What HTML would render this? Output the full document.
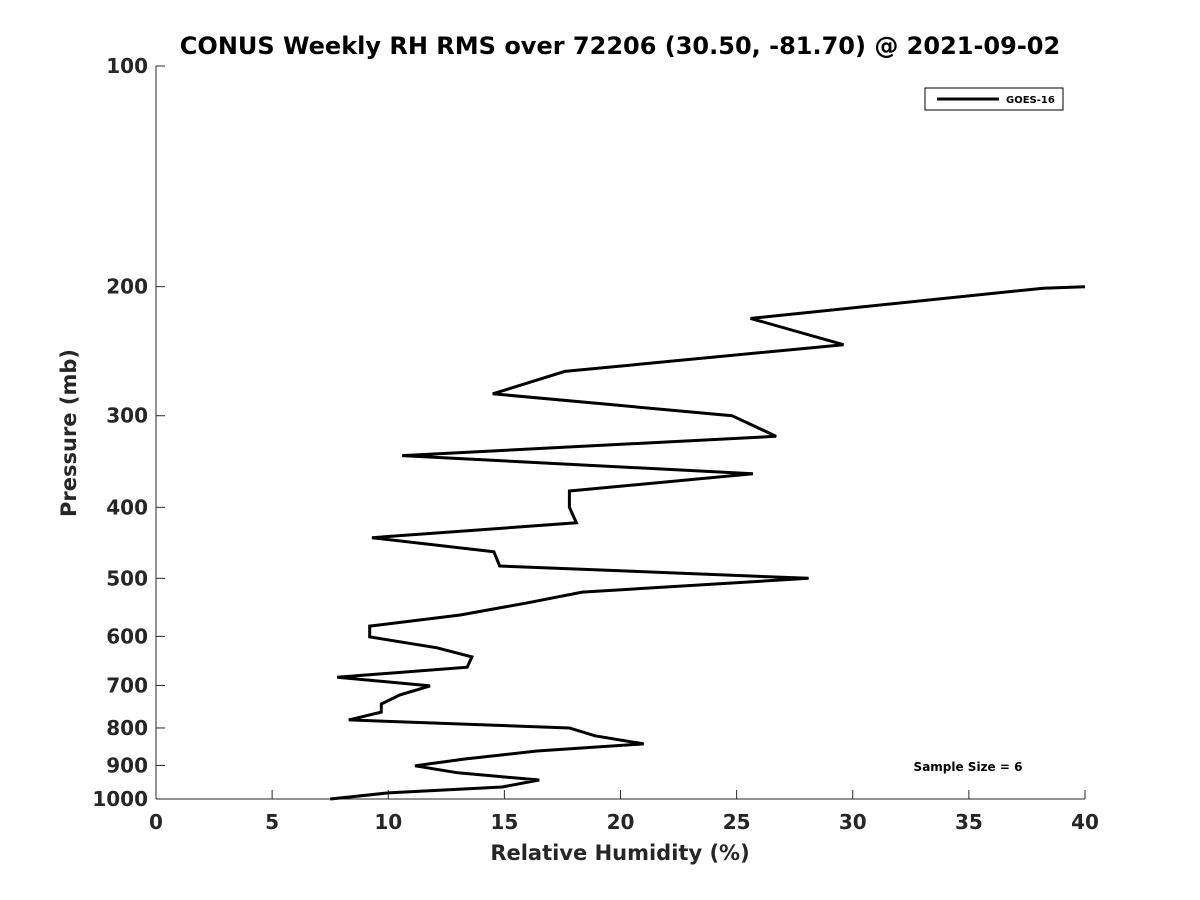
<!DOCTYPE html>
<html><head><meta charset="utf-8"><style>
body{margin:0;background:#fff;}
svg{display:block;font-family:"DejaVu Sans","Liberation Sans",sans-serif;}
</style></head><body>
<svg id="chart" width="1200" height="900">
<text x="620" y="54" text-anchor="middle" font-size="24" font-weight="bold" fill="#000">CONUS Weekly RH RMS over 72206 (30.50, -81.70) @ 2021-09-02</text>
<g id="axes"></g>
<text x="620" y="860" text-anchor="middle" font-size="21" font-weight="bold" fill="#262626">Relative Humidity (%)</text>
<text transform="translate(76,433) rotate(-90)" text-anchor="middle" font-size="21" font-weight="bold" fill="#262626">Pressure (mb)</text>
<g>
<rect x="925" y="88" width="138" height="22" fill="#fff" stroke="#000" stroke-width="1"/>
<line x1="937" y1="99" x2="999" y2="99" stroke="#000" stroke-width="3"/>
<text x="1006" y="103" font-size="10" font-weight="bold">GOES-16</text>
</g>
<text x="968" y="771" text-anchor="middle" font-size="12" font-weight="bold">Sample Size = 6</text>
</svg>
<script>
const rhValues=[40,38.2,25.6,29.6,17.6,14.5,24.8,26.7,10.6,25.7,17.8,17.8,18.1,9.3,14.55,14.8,28.1,18.35,16.0,13.1,9.2,9.2,12.1,13.6,13.4,7.8,11.8,10.5,9.7,9.7,8.3,17.8,18.9,21.0,16.4,13.3,11.15,13.0,16.5,14.9,10.0,7.5];
const pressures=[200,201,221,240,261,280,300,320,340,360,380,400,420,440,460,481,500,522,540,561,581,601,622,640,661,682,701,721,742,761,780,800,820,841,860,882,901,921,942,963,981,1000];
const xTicks=[0,5,10,15,20,25,30,35,40];
const yTicks=[100,200,300,400,500,600,700,800,900,1000];
const L=156,R=1085,T=66,B=799;
const xs=v=>L+(v-0)/(40-0)*(R-L);
const ys=p=>T+Math.log10(p/100)*(B-T);
const NS="http://www.w3.org/2000/svg";
const svg=document.getElementById('chart');
const ax=document.getElementById('axes');
function mk(t,a,par){const e=document.createElementNS(NS,t);for(const k in a)e.setAttribute(k,a[k]);(par||ax).appendChild(e);return e;}
const xl=mk('line',{x1:L,y1:B,x2:R,y2:B,stroke:'#262626','stroke-width':1});


const yl=mk('line',{x1:L,y1:T,x2:L,y2:B,stroke:'#262626','stroke-width':1});


xTicks.forEach(v=>{const x=xs(v);
mk('line',{x1:x,y1:B,x2:x,y2:B-9,stroke:'#262626'});
const t=mk('text',{x:x,y:B+30,'text-anchor':'middle','font-size':20,'font-weight':'bold',fill:'#262626'});t.textContent=v;

});
yTicks.forEach(p=>{const y=ys(p);
mk('line',{x1:L,y1:y,x2:L+9,y2:y,stroke:'#262626'});
const t=mk('text',{x:L-8,y:y+7,'text-anchor':'end','font-size':20,'font-weight':'bold',fill:'#262626'});t.textContent=p;

});
const pts=rhValues.map((v,i)=>xs(v).toFixed(1)+','+ys(pressures[i]).toFixed(1)).join(' ');
const line=mk('polyline',{points:pts,fill:'none',stroke:'#000','stroke-width':3,'stroke-linejoin':'miter'},svg);


</script>
</body></html>
